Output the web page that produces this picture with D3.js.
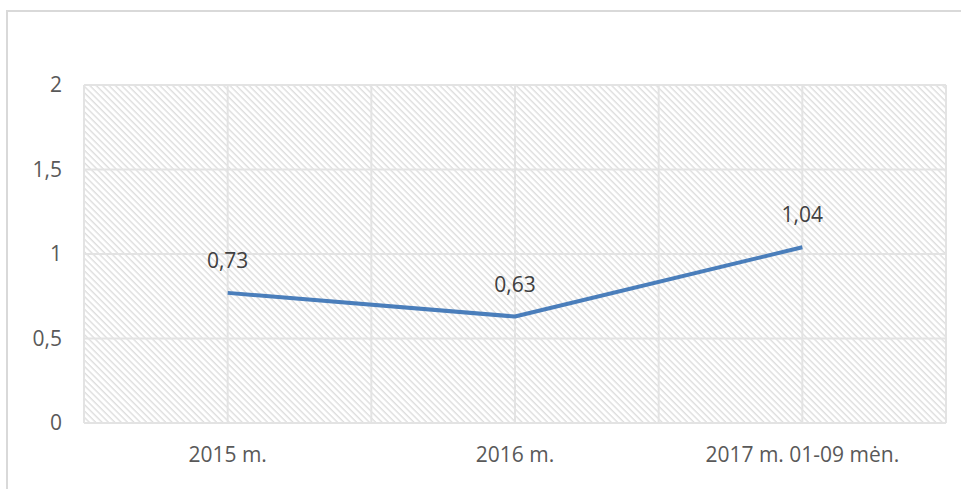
<!DOCTYPE html>
<html lang="lt">
<head>
    <meta charset="UTF-8">
    <title>Rodiklis</title>
    <script src="https://d3js.org/d3.v7.min.js"></script>
    <style>
        body { margin: 0; background: #fff; }
        text { font-family: "Open Sans", "Noto Sans", sans-serif; fill: #595959; }
    </style>
</head>
<body>
    <div id="chart"></div>

    <script>
        const categories = ["2015 m.", "2016 m.", "2017 m. 01-09 mėn."];
        const values = [0.77, 0.63, 1.04];
        const valueLabels = ["0,73", "0,63", "1,04"];
        const yTicks = [0, 0.5, 1, 1.5, 2];
        const yTickLabels = ["0", "0,5", "1", "1,5", "2"];

        const width = 961, height = 489;
        const margin = {top: 85, right: 15, bottom: 66, left: 84};
        const innerW = width - margin.left - margin.right,
              innerH = height - margin.top - margin.bottom;

        const svg = d3.select("#chart")
                      .append("svg")
                      .attr("width", width)
                      .attr("height", height);

        // hatch pattern for the plot area
        const defs = svg.append("defs");
        const pat = defs.append("pattern")
                        .attr("id", "hatch")
                        .attr("patternUnits", "userSpaceOnUse")
                        .attr("width", 4.5)
                        .attr("height", 4.5)
                        .attr("patternTransform", "rotate(45)");
        pat.append("rect").attr("width", 4.5).attr("height", 4.5).attr("fill", "#fff");
        pat.append("rect").attr("width", 4.5).attr("height", 1.4).attr("fill", "#dedede");

        // outer chart border
        svg.append("path")
           .attr("d", `M7,${height} V11 H${width}`)
           .attr("fill", "none")
           .attr("stroke", "#d9d9d9")
           .attr("stroke-width", 2);

        const g = svg.append("g")
                     .attr("transform", `translate(${margin.left}, ${margin.top})`);

        const x = d3.scaleBand().domain(categories).range([0, innerW]);
        const y = d3.scaleLinear().domain([0, 2]).range([innerH, 0]);

        g.append("rect")
         .attr("width", innerW)
         .attr("height", innerH)
         .attr("fill", "url(#hatch)");

        // horizontal gridlines
        g.selectAll(".hgrid")
         .data(yTicks)
         .enter()
         .append("line")
         .attr("class", "hgrid")
         .attr("x1", 0)
         .attr("x2", innerW)
         .attr("y1", d => y(d))
         .attr("y2", d => y(d))
         .attr("stroke", "#e3e3e3")
         .attr("stroke-width", 2);

        // vertical gridlines: band edges and centres
        const vLines = [];
        categories.forEach(c => {
            vLines.push(x(c));
            vLines.push(x(c) + x.bandwidth() / 2);
        });
        vLines.push(innerW);
        g.selectAll(".vgrid")
         .data(vLines)
         .enter()
         .append("line")
         .attr("class", "vgrid")
         .attr("x1", d => d)
         .attr("x2", d => d)
         .attr("y1", 0)
         .attr("y2", innerH)
         .attr("stroke", "#e3e3e3")
         .attr("stroke-width", 2);

        // y axis labels
        g.selectAll(".ylab")
         .data(yTicks)
         .enter()
         .append("text")
         .attr("class", "ylab")
         .attr("x", -22)
         .attr("y", d => y(d))
         .attr("dy", "0.35em")
         .attr("text-anchor", "end")
         .attr("font-size", 21)
         .text((d, i) => yTickLabels[i]);

        // x axis labels
        g.selectAll(".xlab")
         .data(categories)
         .enter()
         .append("text")
         .attr("class", "xlab")
         .attr("x", d => x(d) + x.bandwidth() / 2)
         .attr("y", innerH + 39)
         .attr("text-anchor", "middle")
         .attr("font-size", 21)
         .text(d => d);

        const line = d3.line()
                       .x((d, i) => x(categories[i]) + x.bandwidth() / 2)
                       .y(d => y(d));

        g.append("path")
         .datum(values)
         .attr("d", line)
         .attr("fill", "none")
         .attr("stroke", "#4a7ebb")
         .attr("stroke-width", 4)
         .attr("stroke-linejoin", "round");

        g.selectAll(".vlab")
         .data(values)
         .enter()
         .append("text")
         .attr("class", "vlab")
         .attr("x", (d, i) => x(categories[i]) + x.bandwidth() / 2)
         .attr("y", d => y(d) - 25)
         .attr("text-anchor", "middle")
         .attr("font-size", 21)
         .style("fill", "#404040")
         .text((d, i) => valueLabels[i]);
    </script>
</body>
</html>
